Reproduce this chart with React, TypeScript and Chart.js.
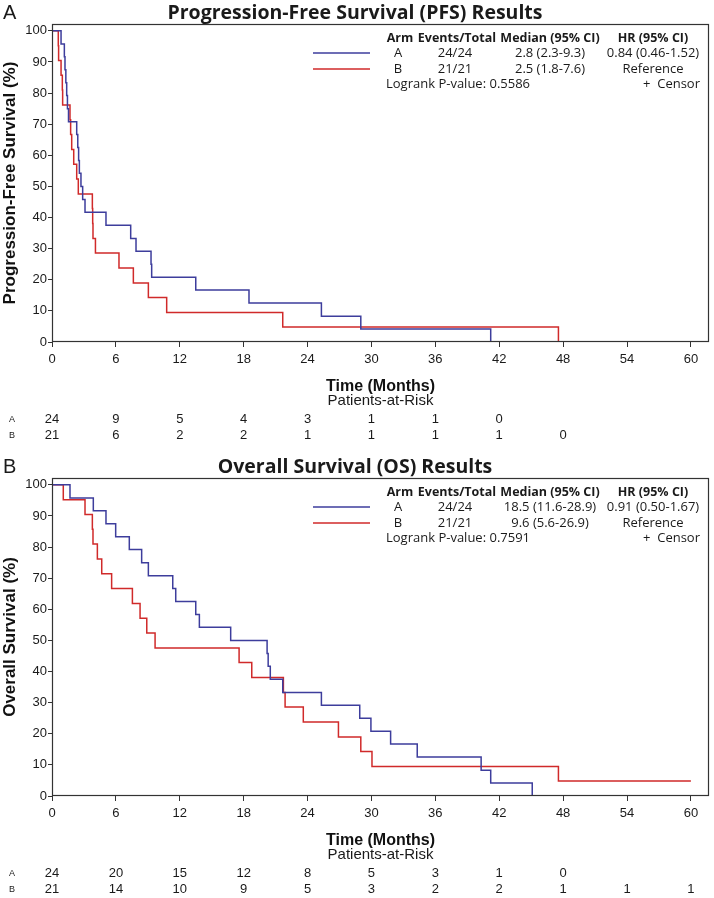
import React, { useEffect, useRef } from 'react';
import { Chart, registerables } from 'chart.js';

Chart.register(...registerables);

// ---------------- data ----------------
const timeTicks = [0, 6, 12, 18, 24, 30, 36, 42, 48, 54, 60];
const survTicks = [0, 10, 20, 30, 40, 50, 60, 70, 80, 90, 100];

// PFS, arm A (blue)
const pfsATimes = [0, 0.85, 1.16, 1.22, 1.3, 1.38, 1.45, 1.55, 2.32, 2.42, 2.5, 2.57, 2.72, 2.88, 3.1, 5.07, 7.39, 7.89, 9.3, 9.36, 13.5, 18.5, 25.3, 29.0, 41.2];
const pfsASurv = [100, 95.8, 91.7, 87.5, 83.3, 79.2, 75.0, 70.8, 66.7, 62.5, 58.3, 54.2, 50.0, 45.8, 41.7, 37.5, 33.3, 29.2, 25.0, 20.8, 16.7, 12.5, 8.3, 4.2, 0];
// PFS, arm B (red)
const pfsBTimes = [0, 0.59, 0.62, 0.85, 0.97, 1.0, 1.69, 1.75, 1.85, 2.04, 2.32, 2.47, 3.79, 3.82, 3.85, 4.08, 6.29, 7.64, 9.05, 10.77, 21.67, 47.56];
const pfsBSurv = [100, 95.2, 90.5, 85.7, 81.0, 76.2, 71.4, 66.7, 61.9, 57.1, 52.4, 47.6, 42.9, 38.1, 33.3, 28.6, 23.8, 19.0, 14.3, 9.5, 4.8, 0];

// OS, arm A (blue)
const osATimes = [0, 1.69, 3.88, 5.07, 5.98, 7.26, 8.42, 9.05, 11.34, 11.62, 13.5, 13.84, 16.78, 20.2, 20.3, 20.5, 21.67, 25.3, 28.9, 29.95, 31.8, 34.3, 40.3, 41.2, 45.1];
const osASurv = [100, 95.8, 91.7, 87.5, 83.3, 79.2, 75.0, 70.8, 66.7, 62.5, 58.3, 54.2, 50.0, 45.8, 41.7, 37.5, 33.3, 29.2, 25.0, 20.8, 16.7, 12.5, 8.3, 4.2, 0];
// OS, arm B (red)
const osBTimes = [0, 1.06, 3.1, 3.79, 3.85, 4.26, 4.67, 5.6, 7.55, 8.27, 8.9, 9.68, 17.57, 18.76, 21.73, 21.89, 23.6, 26.9, 29.0, 30.05, 47.56, 60];
const osBSurv = [100, 95.2, 90.5, 85.7, 81.0, 76.2, 71.4, 66.7, 61.9, 57.1, 52.4, 47.6, 42.9, 38.1, 33.3, 28.6, 23.8, 19.0, 14.3, 9.5, 4.8, 4.8];

// patients at risk (at timeTicks)
const pfsRiskA = [24, 9, 5, 4, 3, 1, 1, 0];
const pfsRiskB = [21, 6, 2, 2, 1, 1, 1, 1, 0];
const osRiskA = [24, 20, 15, 12, 8, 5, 3, 1, 0];
const osRiskB = [21, 14, 10, 9, 5, 3, 2, 2, 1, 1, 1];

// legend tables
const legendHeader = ['Arm', 'Events/Total', 'Median (95% CI)', 'HR (95% CI)'];
const pfsLegendA = ['A', '24/24', '2.8 (2.3-9.3)', '0.84 (0.46-1.52)'];
const pfsLegendB = ['B', '21/21', '2.5 (1.8-7.6)', 'Reference'];
const osLegendA = ['A', '24/24', '18.5 (11.6-28.9)', '0.91 (0.50-1.67)'];
const osLegendB = ['B', '21/21', '9.6 (5.6-26.9)', 'Reference'];
const pfsPValue = 'Logrank P-value: 0.5586';
const osPValue = 'Logrank P-value: 0.7591';
const censorLabel = '+  Censor';

// ---------------- styling ----------------
const BLUE = '#3d3d9c';
const RED = '#d02a2a';
const SANS = '"Liberation Sans", Arial, sans-serif';
const LEG = '"Open Sans", "Noto Sans", sans-serif';
const TEXT = '#1a1a1a';

type Panel = {
  letter: string;
  title: string;
  yTitle: string;
  aTimes: number[];
  aSurv: number[];
  bTimes: number[];
  bSurv: number[];
  legA: string[];
  legB: string[];
  pValue: string;
  riskA: number[];
  riskB: number[];
  height: number;
};

const panels: { panel: Panel; top: number }[] = [
  {
    top: 0,
    panel: {
      letter: 'A',
      title: 'Progression-Free Survival (PFS) Results',
      yTitle: 'Progression-Free Survival (%)',
      aTimes: pfsATimes, aSurv: pfsASurv, bTimes: pfsBTimes, bSurv: pfsBSurv,
      legA: pfsLegendA, legB: pfsLegendB, pValue: pfsPValue,
      riskA: pfsRiskA, riskB: pfsRiskB,
      height: 454,
    },
  },
  {
    top: 454,
    panel: {
      letter: 'B',
      title: 'Overall Survival (OS) Results',
      yTitle: 'Overall Survival (%)',
      aTimes: osATimes, aSurv: osASurv, bTimes: osBTimes, bSurv: osBSurv,
      legA: osLegendA, legB: osLegendB, pValue: osPValue,
      riskA: osRiskA, riskB: osRiskB,
      height: 444,
    },
  },
];

const toPoints = (t: number[], s: number[]) => t.map((x, i) => ({ x, y: s[i] }));

const COLS = [398, 455, 550, 653];
const HEAD_COLS = [400, 457, 550, 653];

function decorPlugin(p: Panel) {
  return {
    id: 'kmDecor',
    afterDraw(chart: any) {
      const { ctx, chartArea: ca } = chart;
      const xs = chart.scales.x;
      ctx.save();
      // frame
      ctx.strokeStyle = '#333';
      ctx.lineWidth = 1.2;
      ctx.strokeRect(ca.left + 0.5, ca.top + 0.5, ca.right - ca.left - 1, ca.bottom - ca.top - 1);

      ctx.fillStyle = TEXT;
      ctx.textBaseline = 'middle';
      // panel letter
      ctx.font = `20px ${SANS}`;
      ctx.textAlign = 'left';
      ctx.fillText(p.letter, 3, 13);
      // title
      ctx.font = `bold 19.5px ${LEG}`;
      ctx.textAlign = 'center';
      ctx.fillText(p.title, 355, 13);

      // legend table
      ctx.font = `bold 12.5px ${LEG}`;
      legendHeader.forEach((h, i) => ctx.fillText(h, HEAD_COLS[i], 38));
      ctx.font = `13px ${LEG}`;
      p.legA.forEach((v, i) => ctx.fillText(v, COLS[i], 53));
      p.legB.forEach((v, i) => ctx.fillText(v, COLS[i], 69));
      ctx.textAlign = 'left';
      ctx.fillText(p.pValue, 386, 84);
      ctx.textAlign = 'right';
      ctx.fillText(censorLabel, 700, 84);
      ctx.lineWidth = 1.5;
      ctx.strokeStyle = BLUE;
      ctx.beginPath();
      ctx.moveTo(313, 53);
      ctx.lineTo(370, 53);
      ctx.stroke();
      ctx.strokeStyle = RED;
      ctx.beginPath();
      ctx.moveTo(313, 69);
      ctx.lineTo(370, 69);
      ctx.stroke();

      // patients at risk
      ctx.fillStyle = TEXT;
      ctx.textAlign = 'center';
      ctx.font = `15px ${SANS}`;
      ctx.fillText('Patients-at-Risk', (ca.left + ca.right) / 2, 401);
      ctx.font = `13px ${SANS}`;
      p.riskA.forEach((v, i) => ctx.fillText(String(v), xs.getPixelForValue(timeTicks[i]), 419));
      p.riskB.forEach((v, i) => ctx.fillText(String(v), xs.getPixelForValue(timeTicks[i]), 435));
      ctx.font = `9px ${SANS}`;
      ctx.fillText('A', 12, 420);
      ctx.fillText('B', 12, 436);
      ctx.restore();
    },
  };
}

function buildConfig(p: Panel): any {
  const tickFont = { family: SANS, size: 13 };
  return {
    type: 'line',
    data: {
      datasets: [
        {
          label: 'A',
          data: toPoints(p.aTimes, p.aSurv),
          borderColor: BLUE,
          borderWidth: 1.5,
          stepped: 'before',
          pointRadius: 0,
          fill: false,
        },
        {
          label: 'B',
          data: toPoints(p.bTimes, p.bSurv),
          borderColor: RED,
          borderWidth: 1.5,
          stepped: 'before',
          pointRadius: 0,
          fill: false,
        },
      ],
    },
    options: {
      animation: false,
      responsive: false,
      devicePixelRatio: 1,
      layout: { padding: { left: 0, top: 24, right: 5, bottom: p.height - 342 - 54 } },
      plugins: { legend: { display: false }, tooltip: { enabled: false }, title: { display: false } },
      scales: {
        x: {
          type: 'linear',
          min: 0,
          max: 61.7,
          afterBuildTicks: (s: any) => {
            s.ticks = timeTicks.map((v) => ({ value: v }));
          },
          afterFit: (s: any) => {
            s.height = 54;
          },
          grid: { display: true, drawOnChartArea: false, drawTicks: true, tickLength: 5, color: '#333' },
          border: { display: false },
          ticks: { color: TEXT, font: tickFont, padding: 5, maxRotation: 0, autoSkip: false },
          title: {
            display: true,
            text: 'Time (Months)',
            color: '#111',
            font: { family: SANS, size: 16, weight: 'bold' },
            padding: { top: 0, bottom: 0 },
          },
        },
        y: {
          type: 'linear',
          min: 0,
          max: 102.2,
          afterBuildTicks: (s: any) => {
            s.ticks = survTicks.map((v) => ({ value: v }));
          },
          afterFit: (s: any) => {
            s.width = 52;
          },
          grid: { display: true, drawOnChartArea: false, drawTicks: true, tickLength: 4, color: '#333' },
          border: { display: false },
          ticks: { color: TEXT, font: tickFont, padding: 1, autoSkip: false },
          title: {
            display: true,
            text: p.yTitle,
            color: '#111',
            font: { family: SANS, size: 17, weight: 'bold' },
            padding: { top: 0, bottom: 0 },
          },
        },
      },
    },
    plugins: [decorPlugin(p)],
  };
}

function KMPanel({ panel, top }: { panel: Panel; top: number }) {
  const ref = useRef<HTMLCanvasElement>(null);
  useEffect(() => {
    if (!ref.current) return;
    const chart = new Chart(ref.current, buildConfig(panel));
    return () => chart.destroy();
  }, [panel]);
  return (
    <canvas
      ref={ref}
      width={714}
      height={panel.height}
      style={{ position: 'absolute', left: 0, top, width: 714, height: panel.height }}
    />
  );
}

export default function App() {
  return (
    <div style={{ position: 'absolute', left: 0, top: 0, width: 714, height: 898, background: '#fff', overflow: 'hidden' }}>
      {panels.map((p) => (
        <KMPanel key={p.panel.letter} panel={p.panel} top={p.top} />
      ))}
    </div>
  );
}
